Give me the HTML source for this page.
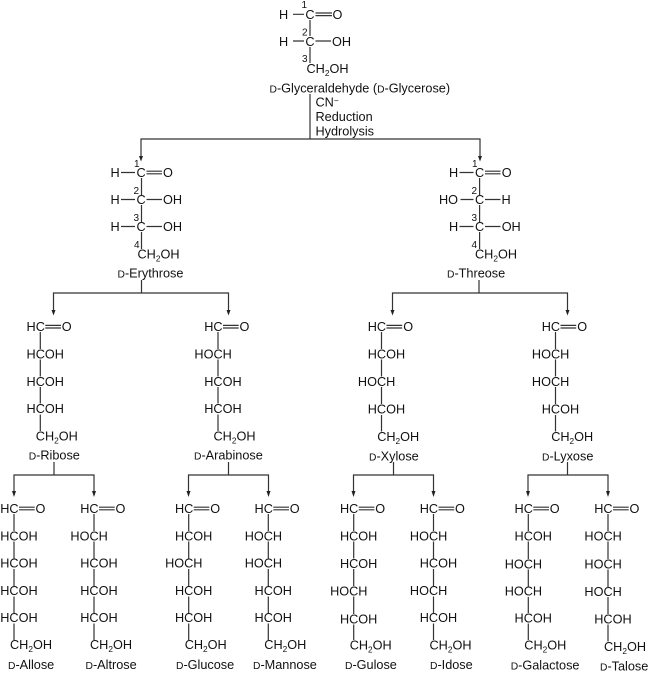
<!DOCTYPE html>
<html><head><meta charset="utf-8"><style>
html,body{margin:0;padding:0;background:#fff}
svg{display:block;filter:blur(0.3px)}
text{font-family:"Liberation Sans",sans-serif;font-size:12.7px;fill:#111}
.n{font-size:10px}
.d{font-size:10.3px}
.s{font-size:8.3px}
path{stroke:#333;stroke-width:1.2;fill:none}
path.a{fill:#222;stroke:none}
</style></head><body>
<svg width="650" height="673" viewBox="0 0 650 673" xmlns="http://www.w3.org/2000/svg">
<!-- Glyceraldehyde -->
<text x="279" y="19">H</text><text x="305.400" y="19">C</text><text x="332.500" y="19">O</text>
<text x="279" y="46">H</text><text x="305.400" y="46">C</text><text x="332" y="46">OH</text>
<text x="306.500" y="73">CH<tspan class="s" dy="3">2</tspan><tspan dy="-3">OH</tspan></text>
<text class="n" x="301.500" y="8">1</text><text class="n" x="302" y="35.500">2</text><text class="n" x="302" y="62">3</text>
<path d="M293 14.300H304M315.500 13H332M315.500 15.600H332M293 41H304M315.500 41H331M310 20V36M310 47V63"/>
<text x="269.500" y="92.500"><tspan class="d">D</tspan>-Glyceraldehyde (<tspan class="d">D</tspan>-Glycerose)</text>
<text x="315.500" y="106.500">CN<tspan class="s" dy="-3">−</tspan></text>
<text x="315.500" y="121">Reduction</text>
<text x="315.500" y="135.500">Hydrolysis</text>
<path d="M310 94V139M141 157V139H480V157"/>
<path class="a" d="M139 156H143L141 161.500ZM478 156H482L480 161.500Z"/>

<!-- Erythrose -->
<text x="110.500" y="177">H</text><text x="136.500" y="177">C</text><text x="163" y="177">O</text>
<text x="110.500" y="204">H</text><text x="136.500" y="204">C</text><text x="163" y="204">OH</text>
<text x="110.500" y="231">H</text><text x="136.500" y="231">C</text><text x="163" y="231">OH</text>
<text x="137.500" y="258.500">CH<tspan class="s" dy="3">2</tspan><tspan dy="-3">OH</tspan></text>
<text class="n" x="134" y="167">1</text><text class="n" x="133.500" y="194">2</text><text class="n" x="133.500" y="221">3</text><text class="n" x="134" y="248">4</text>
<path d="M121 172.500H135M146.500 171.200H162M146.500 173.800H162M121 199.500H135M146.500 199.500H162M121 226.500H135M146.500 226.500H162M141.500 178V195M141.500 205V222M141.500 232V249"/>
<text x="117.500" y="277.500"><tspan class="d">D</tspan>-Erythrose</text>
<path d="M141.500 280V293M53.500 311V293H228.500V311"/>
<path class="a" d="M51.500 310H55.500L53.500 315.500ZM226.500 310H230.500L228.500 315.500Z"/>

<!-- Threose -->
<text x="449" y="177">H</text><text x="475" y="177">C</text><text x="501.700" y="177">O</text>
<text x="439" y="204">HO</text><text x="475" y="204">C</text><text x="501.500" y="204">H</text>
<text x="449" y="231">H</text><text x="475" y="231">C</text><text x="501.700" y="231">OH</text>
<text x="475" y="258.500">CH<tspan class="s" dy="3">2</tspan><tspan dy="-3">OH</tspan></text>
<text class="n" x="472" y="167">1</text><text class="n" x="471.500" y="194">2</text><text class="n" x="471.500" y="221">3</text><text class="n" x="471.500" y="248">4</text>
<path d="M459.500 172.500H473.500M485 171.200H500.500M485 173.800H500.500M460.500 199.500H473.500M485 199.500H500.500M459.500 226.500H473.500M485 226.500H500.500M479.600 178V195M479.600 205V222M479.600 232V249"/>
<text x="447" y="277.500"><tspan class="d">D</tspan>-Threose</text>
<path d="M479 280V293M392.500 311V293H567.500V311"/>
<path class="a" d="M390.500 310H394.500L392.500 315.500ZM565.500 310H569.500L567.500 315.500Z"/>

<!-- Pentoses -->
<g transform="translate(40.300 0)">
<text x="-13.750" y="331.200">HC</text><text x="21.500" y="331.200">O</text>
<text x="-13.750" y="358.500">HCOH</text><text x="-13.750" y="385.800">HCOH</text><text x="-13.750" y="413.100">HCOH</text>
<text x="-4.500" y="440.500">CH<tspan class="s" dy="3">2</tspan><tspan dy="-3">OH</tspan></text>
<path d="M5 325.400H20.700M5 328H20.700M0 332V349M0 359.500V376.500M0 387V403.500M0 414.500V431"/>
</g>
<text x="28.700" y="459.500"><tspan class="d">D</tspan>-Ribose</text>

<g transform="translate(218 0)">
<text x="-13.750" y="331.200">HC</text><text x="21.500" y="331.200">O</text>
<text x="-23.600" y="358.500">HOCH</text><text x="-13.750" y="385.800">HCOH</text><text x="-13.750" y="413.100">HCOH</text>
<text x="-4.500" y="440.500">CH<tspan class="s" dy="3">2</tspan><tspan dy="-3">OH</tspan></text>
<path d="M5 325.400H20.700M5 328H20.700M0 332V349M0 359.500V376.500M0 387V403.500M0 414.500V431"/>
</g>
<text x="194" y="459.500"><tspan class="d">D</tspan>-Arabinose</text>

<g transform="translate(381.500 0)">
<text x="-13.750" y="331.200">HC</text><text x="21.700" y="331.200">O</text>
<text x="-13.750" y="358.500">HCOH</text><text x="-23.600" y="386.100">HOCH</text><text x="-13.750" y="413.400">HCOH</text>
<text x="-4.300" y="441">CH<tspan class="s" dy="3">2</tspan><tspan dy="-3">OH</tspan></text>
<path d="M5 325.400H20.700M5 328H20.700M0 332V349M0 359.500V376.500M0 387V404M0 415V431.500"/>
</g>
<text x="369" y="460.400"><tspan class="d">D</tspan>-Xylose</text>

<g transform="translate(555.500 0)">
<text x="-13.750" y="331.200">HC</text><text x="21.700" y="331.200">O</text>
<text x="-23.600" y="358.500">HOCH</text><text x="-23.600" y="386.100">HOCH</text><text x="-13.750" y="413.400">HCOH</text>
<text x="-4.300" y="441">CH<tspan class="s" dy="3">2</tspan><tspan dy="-3">OH</tspan></text>
<path d="M5 325.400H20.700M5 328H20.700M0 332V349M0 359.500V376.500M0 387V404M0 415V431.500"/>
</g>
<text x="542" y="460.400"><tspan class="d">D</tspan>-Lyxose</text>

<!-- Pentose branch connectors -->
<path d="M54 462V475M14 492V475H94V492"/>
<path class="a" d="M12 491H16L14 497ZM92 491H96L94 497Z"/>
<path d="M228.500 462V475M188.500 492V475H268.500V492"/>
<path class="a" d="M186.500 491H190.500L188.500 497ZM266.500 491H270.500L268.500 497Z"/>
<path d="M393.500 462V475M353.500 492V475H433.500V492"/>
<path class="a" d="M351.500 491H355.500L353.500 497ZM431.500 491H435.500L433.500 497Z"/>
<path d="M567.500 462V475M528 492V475H608V492"/>
<path class="a" d="M526 491H530L528 497ZM606 491H610L608 497Z"/>

<!-- Hexoses -->
<g transform="translate(14 0)">
<text x="-13.750" y="513">HC</text><text x="21.500" y="513">O</text>
<text x="-13.750" y="540.400">HCOH</text><text x="-13.750" y="567.700">HCOH</text><text x="-13.750" y="595">HCOH</text><text x="-13.750" y="622">HCOH</text>
<text x="-4" y="649">CH<tspan class="s" dy="3">2</tspan><tspan dy="-3">OH</tspan></text>
<path d="M5 507.200H20.700M5 509.800H20.700M0 514V531M0 541.500V558.500M0 569V586M0 596.500V613M0 623.500V640"/>
</g>
<text x="8" y="669"><tspan class="d">D</tspan>-Allose</text>

<g transform="translate(94 0)">
<text x="-13.750" y="513">HC</text><text x="21.500" y="513">O</text>
<text x="-23.600" y="540.400">HOCH</text><text x="-13.750" y="567.700">HCOH</text><text x="-13.750" y="595">HCOH</text><text x="-13.750" y="622">HCOH</text>
<text x="-4" y="649">CH<tspan class="s" dy="3">2</tspan><tspan dy="-3">OH</tspan></text>
<path d="M5 507.200H20.700M5 509.800H20.700M0 514V531M0 541.500V558.500M0 569V586M0 596.500V613M0 623.500V640"/>
</g>
<text x="85.500" y="669"><tspan class="d">D</tspan>-Altrose</text>

<g transform="translate(188.700 0)">
<text x="-13.750" y="513">HC</text><text x="21.500" y="513">O</text>
<text x="-13.750" y="540.400">HCOH</text><text x="-23.600" y="567.700">HOCH</text><text x="-13.750" y="595">HCOH</text><text x="-13.750" y="622">HCOH</text>
<text x="-4" y="649">CH<tspan class="s" dy="3">2</tspan><tspan dy="-3">OH</tspan></text>
<path d="M5 507.200H20.700M5 509.800H20.700M0 514V531M0 541.500V558.500M0 569V586M0 596.500V613M0 623.500V640"/>
</g>
<text x="176" y="669"><tspan class="d">D</tspan>-Glucose</text>

<g transform="translate(268.300 0)">
<text x="-13.750" y="513">HC</text><text x="21.500" y="513">O</text>
<text x="-23.600" y="540.400">HOCH</text><text x="-23.600" y="567.700">HOCH</text><text x="-13.750" y="595">HCOH</text><text x="-13.750" y="622">HCOH</text>
<text x="-4" y="649">CH<tspan class="s" dy="3">2</tspan><tspan dy="-3">OH</tspan></text>
<path d="M5 507.200H20.700M5 509.800H20.700M0 514V531M0 541.500V558.500M0 569V586M0 596.500V613M0 623.500V640"/>
</g>
<text x="253" y="669"><tspan class="d">D</tspan>-Mannose</text>

<g transform="translate(353.700 0)">
<text x="-13.750" y="513">HC</text><text x="21.500" y="513">O</text>
<text x="-13.750" y="540.400">HCOH</text><text x="-13.750" y="568">HCOH</text><text x="-23.600" y="595.400">HOCH</text><text x="-13.750" y="623.400">HCOH</text>
<text x="-4" y="649.500">CH<tspan class="s" dy="3">2</tspan><tspan dy="-3">OH</tspan></text>
<path d="M5 507.200H20.700M5 509.800H20.700M0 514V531M0 541.500V558.500M0 569V586M0 596.500V614M0 624.500V640"/>
</g>
<text x="345" y="669"><tspan class="d">D</tspan>-Gulose</text>

<g transform="translate(433.500 0)">
<text x="-13.750" y="513">HC</text><text x="21.500" y="513">O</text>
<text x="-23.600" y="540.400">HOCH</text><text x="-13.750" y="567.700">HCOH</text><text x="-23.600" y="595">HOCH</text><text x="-13.750" y="622">HCOH</text>
<text x="-4" y="649.500">CH<tspan class="s" dy="3">2</tspan><tspan dy="-3">OH</tspan></text>
<path d="M5 507.200H20.700M5 509.800H20.700M0 514V531M0 541.500V558.500M0 569V586M0 596.500V613M0 623.500V640"/>
</g>
<text x="430" y="669"><tspan class="d">D</tspan>-Idose</text>

<g transform="translate(528.300 0)">
<text x="-13.750" y="513">HC</text><text x="21.500" y="513">O</text>
<text x="-13.750" y="540.400">HCOH</text><text x="-23.600" y="568.300">HOCH</text><text x="-23.600" y="595.700">HOCH</text><text x="-13.750" y="622.400">HCOH</text>
<text x="-4" y="649.700">CH<tspan class="s" dy="3">2</tspan><tspan dy="-3">OH</tspan></text>
<path d="M5 507.200H20.700M5 509.800H20.700M0 514V531M0 541.500V559M0 569.500V586.500M0 597V613M0 623.500V640"/>
</g>
<text x="510.700" y="669.400"><tspan class="d">D</tspan>-Galactose</text>

<g transform="translate(608 0)">
<text x="-13.750" y="513">HC</text><text x="21.500" y="513">O</text>
<text x="-23.600" y="540.400">HOCH</text><text x="-23.600" y="568.300">HOCH</text><text x="-23.600" y="596">HOCH</text><text x="-13.750" y="623.400">HCOH</text>
<text x="-4" y="651">CH<tspan class="s" dy="3">2</tspan><tspan dy="-3">OH</tspan></text>
<path d="M5 507.200H20.700M5 509.800H20.700M0 514V531M0 541.500V559M0 569.500V587M0 597V614M0 624.500V641.500"/>
</g>
<text x="600" y="670.500"><tspan class="d">D</tspan>-Talose</text>
</svg>
</body></html>
